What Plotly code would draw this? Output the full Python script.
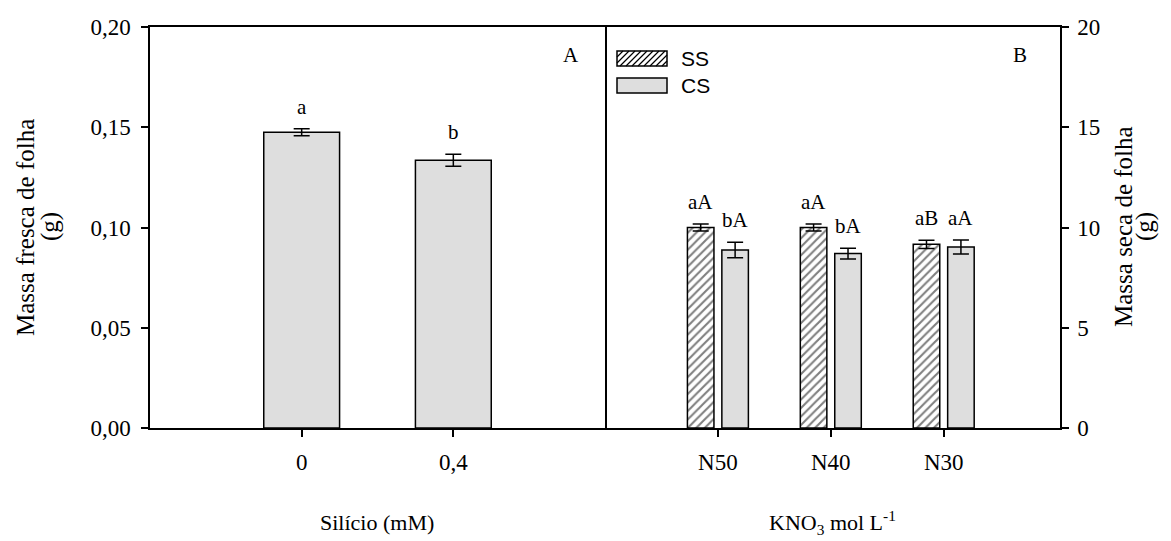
import plotly.graph_objects as go

# Panel A: fresh leaf mass by silicon dose
si_labels = ["0", "0,4"]
fresh_mass = [0.1475, 0.1335]
fresh_err = [0.0018, 0.003]
fresh_letters = ["a", "b"]

# Panel B: dry leaf mass by KNO3 level, without (SS) and with (CS) silicon
kno3_labels = ["N50", "N40", "N30"]
dry_ss = [10.0, 10.0, 9.16]
dry_ss_err = [0.17, 0.18, 0.21]
dry_cs = [8.88, 8.70, 9.03]
dry_cs_err = [0.39, 0.27, 0.35]
letters_ss = ["aA", "aA", "aB"]
letters_cs = ["bA", "bA", "aA"]

SERIF = "Liberation Serif"
SANS = "Liberation Sans"
GRAY = "#dedede"

W, H = 1171, 541
ML, MR, MT, MB = 150, 111, 27, 113
PW, PH = W - ML - MR, H - MT - MB

fig = go.Figure()

xa = list(range(len(si_labels)))
xb = list(range(len(kno3_labels)))

hatch = dict(shape="/", fgcolor="black", bgcolor="white", size=6, solidity=0.35)

fig.add_trace(go.Bar(
    x=xa, y=fresh_mass, width=0.5,
    marker=dict(color=GRAY, line=dict(color="black", width=1.5)),
    error_y=dict(type="data", array=fresh_err, color="black", thickness=1.5, width=8),
    xaxis="x", yaxis="y", showlegend=False,
))

fig.add_trace(go.Bar(
    x=xb, y=dry_ss, width=0.235, offset=-0.27, name="SS",
    marker=dict(color="white", line=dict(color="black", width=1.5), pattern=hatch),
    error_y=dict(type="data", array=dry_ss_err, color="black", thickness=1.5, width=8),
    xaxis="x2", yaxis="y2", showlegend=False,
))
fig.add_trace(go.Bar(
    x=xb, y=dry_cs, width=0.235, offset=0.035, name="CS",
    marker=dict(color=GRAY, line=dict(color="black", width=1.5)),
    error_y=dict(type="data", array=dry_cs_err, color="black", thickness=1.5, width=8),
    xaxis="x2", yaxis="y2", showlegend=False,
))

letter_font = dict(family=SERIF, size=21, color="black")
annotations = []
for xi, v, e, t in zip(xa, fresh_mass, fresh_err, fresh_letters):
    annotations.append(dict(x=xi, y=v + e, xref="x", yref="y", text=t, showarrow=False,
                            xanchor="center", yanchor="bottom", yshift=8, font=letter_font))
for xi, v, e, t in zip(xb, dry_ss, dry_ss_err, letters_ss):
    annotations.append(dict(x=xi - 0.27 + 0.1175, y=v + e, xref="x2", yref="y2", text=t,
                            showarrow=False, xanchor="center", yanchor="bottom", yshift=8,
                            font=letter_font))
for xi, v, e, t in zip(xb, dry_cs, dry_cs_err, letters_cs):
    annotations.append(dict(x=xi + 0.035 + 0.1175, y=v + e, xref="x2", yref="y2", text=t,
                            showarrow=False, xanchor="center", yanchor="bottom", yshift=8,
                            font=letter_font))


def px_to_paper(px, py):
    return (px - ML) / PW, (H - MB - py) / PH


# panel letters
for label, (px, py) in (("A", (571, 55)), ("B", (1020, 55))):
    x, y = px_to_paper(px, py)
    annotations.append(dict(x=x, y=y, xref="paper", yref="paper", text=label,
                            showarrow=False, xanchor="center", yanchor="middle",
                            font=letter_font))

# rotated axis titles, one annotation per line
title_font = dict(family=SERIF, size=25, color="black")
for text, px in (("Massa fresca de folha", 25), ("(g)", 50),
                 ("Massa seca de folha", 1123), ("(g)", 1145)):
    x, y = px_to_paper(px, 227)
    annotations.append(dict(x=x, y=y, xref="paper", yref="paper", text=text,
                            textangle=-90, showarrow=False, xanchor="center",
                            yanchor="middle", font=title_font))

xt_font = dict(family=SERIF, size=22, color="black")
for text, px in (("Silício (mM)", 377), ("KNO<sub>3</sub> mol L<sup>-1</sup>", 832)):
    x, y = px_to_paper(px, 522)
    annotations.append(dict(x=x, y=y, xref="paper", yref="paper", text=text,
                            showarrow=False, xanchor="center", yanchor="middle",
                            font=xt_font))

# legend keys: swatches drawn as shapes, labels as annotations
shapes = []
sw_x0, sw_x1 = 617, 667
legend_rows = [("SS", 51, 66, True), ("CS", 78, 93, False)]
for label, y0, y1, hatched in legend_rows:
    (ax0, ay0), (ax1, ay1) = px_to_paper(sw_x0, y1), px_to_paper(sw_x1, y0)
    shapes.append(dict(type="rect", xref="paper", yref="paper", x0=ax0, y0=ay0,
                       x1=ax1, y1=ay1, fillcolor="white" if hatched else GRAY,
                       line=dict(color="black", width=1.5), layer="above"))
    if hatched:
        h = y1 - y0
        step = 6
        segs = []
        s = sw_x0 - h
        while s < sw_x1:
            # line from (s, y1) going up-right to (s + h, y0), clipped to the swatch
            xa0, ya0 = s, y1
            xa1, ya1 = s + h, y0
            if xa0 < sw_x0:
                ya0 = y1 - (sw_x0 - xa0)
                xa0 = sw_x0
            if xa1 > sw_x1:
                ya1 = y0 + (xa1 - sw_x1)
                xa1 = sw_x1
            if xa1 > xa0:
                p0 = px_to_paper(xa0, ya0)
                p1 = px_to_paper(xa1, ya1)
                segs.append(f"M{p0[0]:.5f},{p0[1]:.5f}L{p1[0]:.5f},{p1[1]:.5f}")
            s += step
        shapes.append(dict(type="path", xref="paper", yref="paper", path="".join(segs),
                           line=dict(color="black", width=1.2), layer="above"))
    tx, ty = px_to_paper(679, (y0 + y1) / 2)
    annotations.append(dict(x=tx, y=ty, xref="paper", yref="paper", text=label,
                            showarrow=False, xanchor="left", yanchor="middle",
                            font=dict(family=SANS, size=21, color="black")))

axis_common = dict(showline=True, linecolor="black", linewidth=1.5,
                   ticks="outside", ticklen=7, tickwidth=1.5, tickcolor="black",
                   showgrid=False, zeroline=False,
                   tickfont=dict(family=SERIF, size=23, color="black"))

fig.update_layout(
    width=W, height=H,
    margin=dict(l=ML, r=MR, t=MT, b=MB),
    plot_bgcolor="white", paper_bgcolor="white",
    barmode="overlay",
    showlegend=False,
    xaxis=dict(domain=[0, 0.5], range=[-1, 2], tickvals=xa, ticktext=si_labels,
               anchor="y", mirror=True, ticklabelstandoff=6, **axis_common),
    yaxis=dict(domain=[0, 1], range=[0, 0.2], tickvals=[0, 0.05, 0.10, 0.15, 0.20],
               ticktext=["0,00", "0,05", "0,10", "0,15", "0,20"], anchor="x",
               mirror=True, ticklabelstandoff=6, **axis_common),
    xaxis2=dict(domain=[0.5, 1], range=[-1, 3.03], tickvals=xb, ticktext=kno3_labels,
                anchor="y2", mirror=True, ticklabelstandoff=6, **axis_common),
    yaxis2=dict(domain=[0, 1], range=[0, 20], tickvals=[0, 5, 10, 15, 20],
                side="right", anchor="x2", mirror=False, ticklabelstandoff=4,
                **axis_common),
    annotations=annotations,
    shapes=shapes,
    font=dict(color="black"),
)

fig.write_html("out.html")
